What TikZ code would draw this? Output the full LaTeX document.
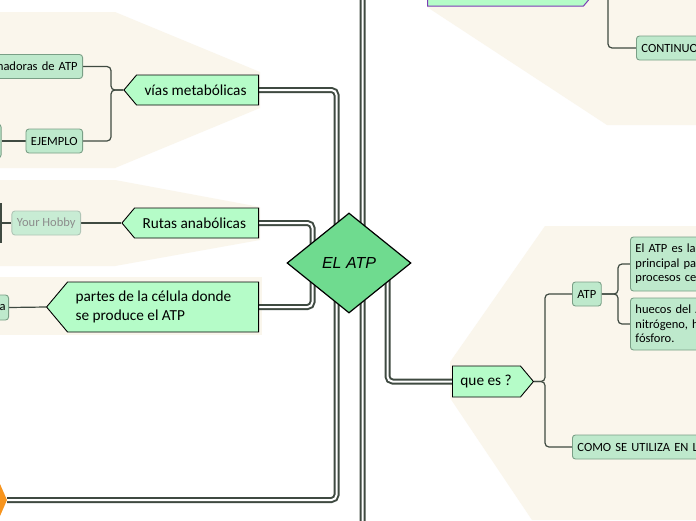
\documentclass[tikz,border=0pt]{standalone}
\usepackage{fontspec}
\setmainfont{Carlito}
\newfontfamily\arialish{Liberation Sans}
\usetikzlibrary{shapes.geometric,shapes.symbols,backgrounds}
\definecolor{cream}{HTML}{FAF6EC}
\definecolor{mintfill}{HTML}{B5FCC8}
\definecolor{topicfill}{HTML}{6FDB8F}
\definecolor{leaffill}{HTML}{BEE9CC}
\definecolor{leafline}{HTML}{7A9F86}
\definecolor{wire}{HTML}{3F4A41}
\definecolor{plum}{HTML}{7B3DB5}
\definecolor{tangerine}{HTML}{F7941D}
\begin{document}
\begin{tikzpicture}[x=1pt,y=-1pt,
  branch/.style={signal,draw=black,fill=mintfill,line width=0.9pt,font=\fontsize{15.3}{19}\selectfont,align=flush left,inner xsep=8pt,inner ysep=0pt,minimum height=30pt,signal pointer angle=100},
  leaf/.style={draw=leafline,fill=leaffill,rounded corners=3pt,line width=0.9pt,font=\fontsize{12.5}{14.5}\selectfont,inner xsep=5pt,inner ysep=0pt,minimum height=24pt},
  faded/.style={draw=leafline!60,fill=leaffill!85,text=black!45},
  trunk/.style={draw=wire,line width=2pt,double=white,double distance=2pt,rounded corners=5pt},
  twig/.style={draw=wire,line width=1.2pt,rounded corners=4pt}]
  \useasboundingbox (0,0) rectangle (696,520);
  \clip (0,0) rectangle (696,520);

  % central topic
  \node[diamond,draw=black,fill=topicfill,line width=1.2pt,minimum width=124pt,minimum height=100pt,inner sep=0pt,font=\arialish\fontsize{16}{19}\selectfont\itshape] (atp) at (349,263) {EL ATP};

  % left branches
  \node[branch,signal to=west,text width=106pt,anchor=east] (vias) at (259,90) {\mbox{vías metabólicas}};
  \node[branch,signal to=west,text width=108pt,anchor=east] (rutas) at (259,223) {\mbox{Rutas anabólicas}};
  \node[branch,signal to=west,text width=175pt,minimum height=50pt,anchor=east] (partes) at (259,307) {partes de la célula donde\\se produce el ATP};
  \node[leaf,anchor=east,text width=100pt,align=right] (forma) at (83,66.5) {madoras de ATP};
  \node[leaf,anchor=east] (ejemplo) at (83,141) {EJEMPLO};
  \node[leaf,anchor=east,minimum width=40pt,minimum height=34pt] (ejhijo) at (1.5,141) {};
  \node[leaf,faded,anchor=east] (hobby) at (81,223) {Your Hobby};
  \node[leaf,anchor=east,minimum height=25pt,inner xsep=3pt,text width=30pt,align=right] (celhijo) at (9,307.5) {a};
  \fill[tangerine] (-6,484) -- (0,484) -- (7,500) -- (0,516) -- (-6,516) -- cycle;
  \coordinate (raiz) at (7,500);

  % right branches
  \node[signal,signal to=east,draw=plum,fill=mintfill,line width=1pt,text width=140pt,inner xsep=8pt,minimum height=36pt,signal pointer angle=100,anchor=west] (tema) at (427,-12) {};
  \node[leaf,anchor=west,text width=80pt,align=left] (cont) at (636,48) {CONTINUO};
  \node[branch,signal to=east,text width=52pt,anchor=west,minimum height=31pt] (quees) at (452,381.5) {\mbox{que es ?}};
  \node[leaf,anchor=west] (atpleaf) at (572,294) {ATP};
  \node[leaf,anchor=west,text width=80pt,align=left,minimum height=54pt] (def1) at (630,264) {El ATP es la\\principal par\\procesos cel};
  \node[leaf,anchor=west,text width=80pt,align=left,minimum height=52pt] (def2) at (630,324) {huecos del A\\nitrógeno, h\\fósforo.};
  \node[leaf,anchor=west,text width=150pt,align=left] (como) at (572,447) {COMO SE UTILIZA EN LA};
  \coordinate (abajo) at (362.5,540);

  \begin{pgfonlayer}{background}
    \fill[white] (0,0) rectangle (696,520);
    \fill[cream] (0,12) -- (115,12) -- (260,72) -- (260,108) -- (115,168) -- (0,168) -- cycle;
    \fill[cream] (0,180) -- (115,180) -- (260,207) -- (260,240) -- (115,266) -- (0,266) -- cycle;
    \fill[cream] (0,277) rectangle (262,335);
    \fill[cream] (427,0) -- (427,7) -- (607,125) -- (696,125) -- (696,0) -- cycle;
    \fill[cream] (545,226) -- (696,226) -- (696,520) -- (532,520) -- (450,398) -- (450,362) -- cycle;

    \draw[trunk] (atp.center) -- (336.5,263) |- (vias.east);
    \draw[trunk] (atp.center) -- (336.5,263) |- (raiz);
    \draw[trunk] (atp.center) -- (312.5,263) |- (rutas.east);
    \draw[trunk] (atp.center) -- (312.5,263) |- (partes.east);
    \draw[trunk] (atp.center) -- (362.5,263) |- (tema.west);
    \draw[trunk] (atp.center) -- (362.5,263) -- (abajo);
    \draw[trunk] (atp.center) -- (387.5,263) |- (quees.west);

    \draw[twig] (vias.west) -- (111,90) |- (forma.east);
    \draw[twig] (vias.west) -- (111,90) |- (ejemplo.east);
    \draw[twig] (ejemplo.west) -- (ejhijo.east);
    \draw[twig] (rutas.west) -- (hobby.east);
    \draw[twig] (hobby.west) -- ++(-10.5,0) coordinate (hb);
    \draw[twig,rounded corners=0pt] (hb) ++(0,-20) -- ++(0,40);
    \draw[twig] (partes.west) -- (celhijo.east);
    \draw[twig] (tema.east) -- (608,-12) |- (cont.west);
    \draw[twig] (quees.east) -- (545,381.5) |- (atpleaf.west);
    \draw[twig] (quees.east) -- (545,381.5) |- (como.west);
    \draw[twig] (atpleaf.east) -- (618,294) |- (def1.west);
    \draw[twig] (atpleaf.east) -- (618,294) |- (def2.west);
  \end{pgfonlayer}
\end{tikzpicture}
\end{document}
